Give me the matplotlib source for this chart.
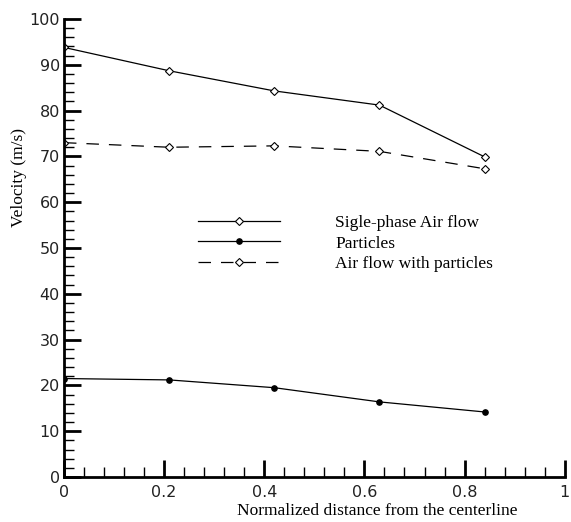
import matplotlib
matplotlib.use("Agg")
import matplotlib.pyplot as plt
from matplotlib.ticker import MultipleLocator

x = [0.0, 0.21, 0.42, 0.63, 0.84]
single_phase = [93.8, 88.7, 84.3, 81.2, 69.9]
particles = [21.5, 21.2, 19.5, 16.4, 14.2]
air_with_particles = [73.0, 72.0, 72.3, 71.1, 67.3]

labels = ["Sigle-phase Air flow", "Particles", "Air flow with particles"]

fig = plt.figure(figsize=(5.71, 5.22), dpi=100)
ax = fig.add_axes([0.112, 0.0862, 0.877, 0.8774])

ax.plot(x, single_phase, color='black', lw=0.9, marker='D', ms=4.5,
        mfc='white', mec='black', mew=0.8, label=labels[0])
ax.plot(x, particles, color='black', lw=0.9, marker='o', ms=3.8,
        mfc='black', mec='black', label=labels[1])
ax.plot(x, air_with_particles, color='black', lw=0.9, marker='D', ms=4.5,
        mfc='white', mec='black', mew=0.8, dashes=(10, 8), label=labels[2])

ax.set_xlim(0, 1)
ax.set_ylim(0, 100)
ax.xaxis.set_major_locator(MultipleLocator(0.2))
ax.xaxis.set_minor_locator(MultipleLocator(0.04))
ax.yaxis.set_major_locator(MultipleLocator(10))
ax.yaxis.set_minor_locator(MultipleLocator(2))
ax.set_xticks([0, 0.2, 0.4, 0.6, 0.8, 1.0])
ax.set_xticklabels(["0", "0.2", "0.4", "0.6", "0.8", "1"])

for s in ['top', 'right']:
    ax.spines[s].set_visible(False)
for s in ['left', 'bottom']:
    ax.spines[s].set_linewidth(2)

ax.tick_params(which='major', direction='in', length=12, width=2,
               labelsize=11.5)
ax.tick_params(axis='y', which='major', pad=3)
ax.tick_params(axis='x', which='major', pad=6)
ax.tick_params(which='minor', direction='in', length=7, width=1)
for lab in ax.get_xticklabels() + ax.get_yticklabels():
    lab.set_family('DejaVu Sans')
    lab.set_color('#222222')

ax.set_xlabel("Normalized distance from the centerline", family='Liberation Serif', fontsize=12.5)
ax.set_ylabel("Velocity (m/s)", family='Liberation Serif', fontsize=12.5)
ax.xaxis.set_label_coords(0.625, -0.057)
ax.yaxis.set_label_coords(-0.073, 0.653)

leg = ax.legend(loc='upper left', bbox_to_anchor=(0.2675, 0.573), frameon=False,
                borderpad=0, borderaxespad=0,
                handlelength=4.7, handletextpad=3.2, labelspacing=0.27,
                prop={'family': 'Liberation Serif', 'size': 12.5})

fig.savefig("out.png", dpi=100)
